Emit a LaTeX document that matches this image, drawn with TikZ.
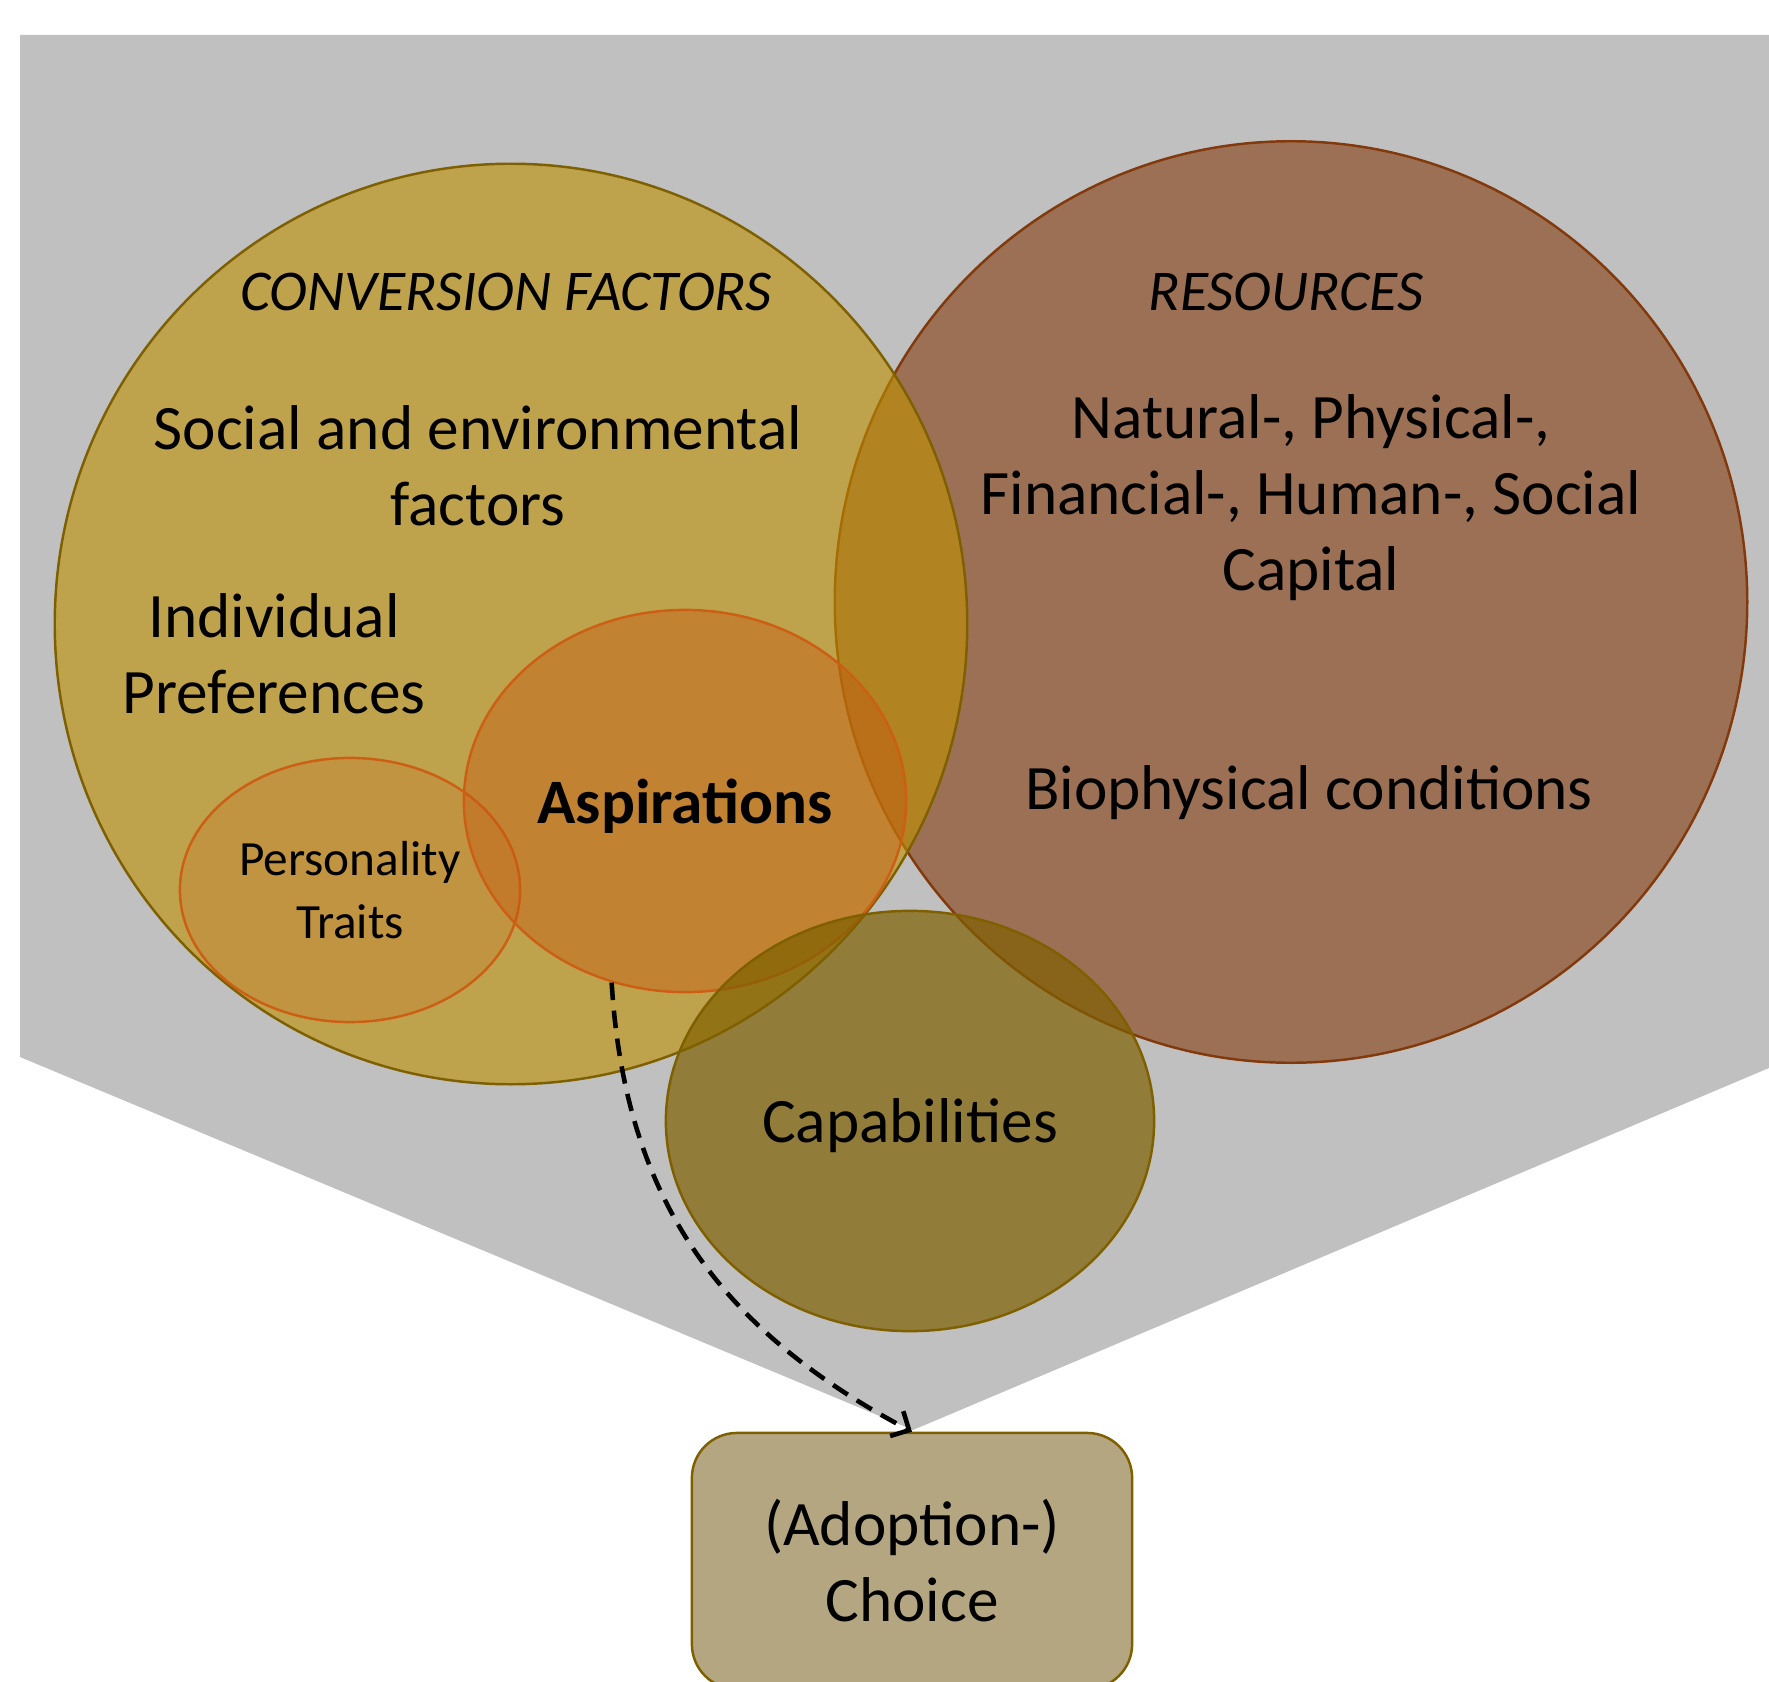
\documentclass[tikz,border=0pt]{standalone}
\usepackage{fontspec}
\setmainfont{Carlito}
\usetikzlibrary{shapes.geometric,arrows.meta}
\definecolor{bggray}{RGB}{192,192,192}
\definecolor{goldfill}{RGB}{191,144,0}
\definecolor{goldline}{RGB}{127,96,0}
\definecolor{brownfill}{RGB}{132,60,12}
\definecolor{brownline}{RGB}{130,58,12}
\definecolor{orangefill}{RGB}{197,90,17}
\definecolor{orangeline}{RGB}{205,95,20}
\definecolor{choicefill}{RGB}{181,166,130}
\tikzset{
  setshape/.style={ellipse, draw, line width=0.7pt, inner sep=0pt},
  choicebox/.style={rectangle, rounded corners=0.45cm, draw=goldline, fill=choicefill,
    line width=0.7pt, minimum width=4.4cm, minimum height=2.56cm, align=center,
    font=\fontsize{18}{21.6}\selectfont},
  lbl/.style={align=center, font=\fontsize{18}{21.6}\selectfont},
  headlbl/.style={align=center, font=\fontsize{16.4}{19.7}\selectfont\itshape},
  smalllbl/.style={align=center, font=\fontsize{14}{17.9}\selectfont},
  flowarrow/.style={dash pattern=on 5pt off 3pt, line width=1.3pt,
    -{Straight Barb[length=4pt,width=8pt]}}
}

\begin{document}
\begin{tikzpicture}[x=0.01cm, y=-0.01cm]
\useasboundingbox (0,0) rectangle (1769,1682);
% grey funnel behind everything
\fill[bggray] (20,35) -- (1769,35) -- (1769,1068) -- (913,1430) -- (20,1057) -- cycle;

% the sets
\node[setshape, draw=brownline, fill=brownfill, fill opacity=0.6,
  minimum width=9.12cm, minimum height=9.21cm] (res) at (1291,602) {};
\node[setshape, draw=goldline, fill=goldfill, fill opacity=0.6,
  minimum width=9.12cm, minimum height=9.2cm] (conv) at (511,624) {};
\node[setshape, draw=orangeline, fill=orangefill, fill opacity=0.2,
  minimum width=3.4cm, minimum height=2.64cm] (pers) at (350,890) {};
\node[setshape, draw=orangeline, fill=orangefill, fill opacity=0.44,
  minimum width=4.42cm, minimum height=3.82cm] (asp) at (685,801) {};
\node[setshape, draw=goldline, fill=goldline, fill opacity=0.7,
  minimum width=4.88cm, minimum height=4.2cm] (cap) at (910,1121) {};
\node[choicebox] (choice) at (912,1561) {(Adoption-)\\Choice};

% texts
\node[headlbl] (convhead) at (506,292) {CONVERSION FACTORS};
\node[lbl] (social) at (478,466) {Social and environmental\\factors};
\node[lbl] (indiv) at (274,654) {Individual\\Preferences};
\node[smalllbl] (perstext) at (pers) {Personality\\Traits};
\node[lbl, font=\fontsize{18}{21.6}\selectfont\bfseries] (asptext) at (685,806) {Aspirations};
\node[headlbl] (reshead) at (1286,292) {RESOURCES};
\node[lbl] (capital) at (1311,498) {Natural-, Physical-,\\Financial-, Human-, Social\\Capital};
\node[lbl] (bio) at (1309,793) {Biophysical conditions};
\node[lbl] (captext) at (910,1126) {Capabilities};

\draw[flowarrow] (asp.248) .. controls (625,1200) and (720,1330) .. (choice.north);
\end{tikzpicture}
\end{document}
